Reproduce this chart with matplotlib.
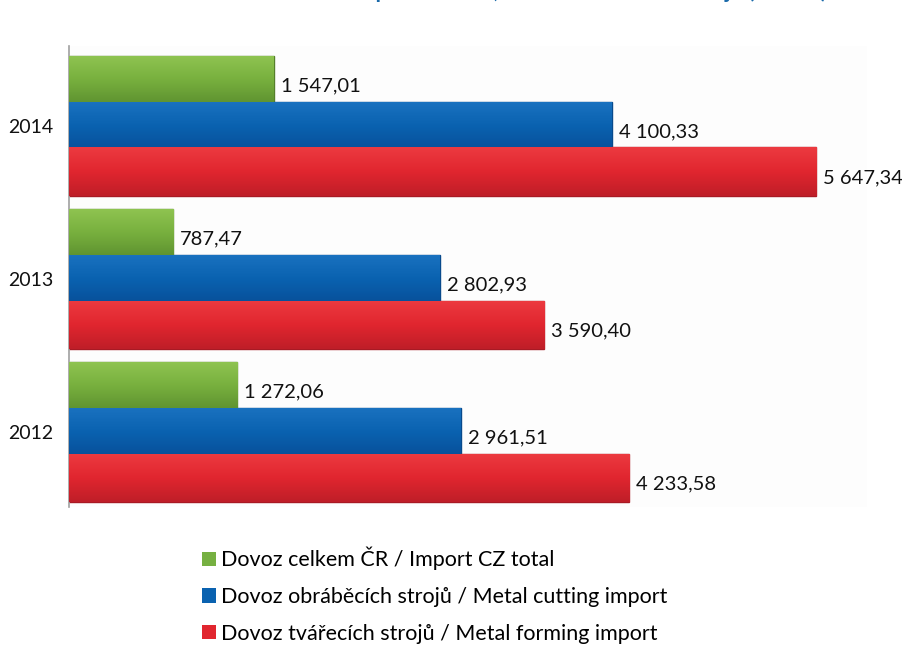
import numpy as np
import matplotlib
matplotlib.use("Agg")
import matplotlib.pyplot as plt
from matplotlib.colors import LinearSegmentedColormap
from matplotlib.patches import Patch

plt.rcParams['font.family'] = ['Lato', 'DejaVu Sans']

years = ["2012", "2013", "2014"]
total_import = [1272.06, 787.47, 1547.01]
cutting_import = [2961.51, 2802.93, 4100.33]
forming_import = [4233.58, 3590.40, 5647.34]

series_labels = [
    "Dovoz celkem ČR / Import CZ total",
    "Dovoz obráběcích strojů / Metal cutting import",
    "Dovoz tvářecích strojů / Metal forming import",
]
title = "Dovoz – import celkem, obráběcí a tvářecí stroje (mil. Kč)"

# (top colour, middle colour, bottom colour, edge colour)
palettes = [
    ("#8fc451", "#78b03e", "#5e9230", "#557f2b"),
    ("#1a72c0", "#0a62b0", "#08509a", "#084a8c"),
    ("#ec3a40", "#e1262f", "#bf1e28", "#a81a24"),
]
legend_colors = ["#76b041", "#0a62b0", "#e1262f"]


def fmt(v):
    s = f"{v:,.2f}"
    return s.replace(",", " ").replace(".", ",")


W, H = 903, 659
fig = plt.figure(figsize=(W / 100, H / 100), dpi=100)
fig.patch.set_facecolor("white")

ax = fig.add_axes([69 / W, 1 - 507 / H, 798 / W, 461 / H])
ax.set_facecolor("#fdfdfd")

y = np.arange(len(years))
offsets = [0.30, 0.0, -0.30]
bar_h = 0.315

for series, off, pal in zip([total_import, cutting_import, forming_import], offsets, palettes):
    bars = ax.barh(y + off, series, height=bar_h, color=pal[1],
                   edgecolor=pal[3], linewidth=1.0, zorder=2)
    cmap = LinearSegmentedColormap.from_list("g", [pal[2], pal[1], pal[0]])
    for bar, v in zip(bars, series):
        x0, y0 = bar.get_x(), bar.get_y()
        w, h = bar.get_width(), bar.get_height()
        grad = np.linspace(0, 1, 64).reshape(-1, 1)
        im = ax.imshow(grad, extent=[x0, x0 + w, y0, y0 + h], origin="lower",
                       aspect="auto", cmap=cmap, zorder=3, interpolation="bilinear")
        im.set_clip_path(bar)
        ax.annotate(fmt(v), xy=(x0 + w, y0 + h / 2), xytext=(5, -4.5),
                    textcoords="offset points", va="center", ha="left",
                    fontsize=14.5, color="#111111", zorder=5)

ax.set_xlim(0, 6030)
ax.set_ylim(-0.49, 2.52)
ax.set_yticks(y)
ax.set_yticklabels(years, fontsize=14, color="#111111")
ax.tick_params(axis="y", length=0, pad=11)
ax.set_xticks([])
for side in ["top", "right", "bottom"]:
    ax.spines[side].set_visible(False)
ax.spines["left"].set_color("#a0a0a0")
ax.spines["left"].set_linewidth(1.2)

handles = [Patch(facecolor=c, edgecolor="none") for c in legend_colors]
fig.legend(handles, series_labels, loc="upper left",
           bbox_to_anchor=(202 / W, 1 - 547 / H), frameon=False,
           fontsize=15.5, handlelength=0.65, handleheight=0.65,
           handletextpad=0.23, labelspacing=0.77, borderaxespad=0,
           borderpad=0)

fig.text(545 / W, 1 + 2 / H, title, ha="center", va="baseline",
         fontsize=16, fontweight="bold", color="#1a6aaa")

fig.savefig("out.png", dpi=100, facecolor="white")
